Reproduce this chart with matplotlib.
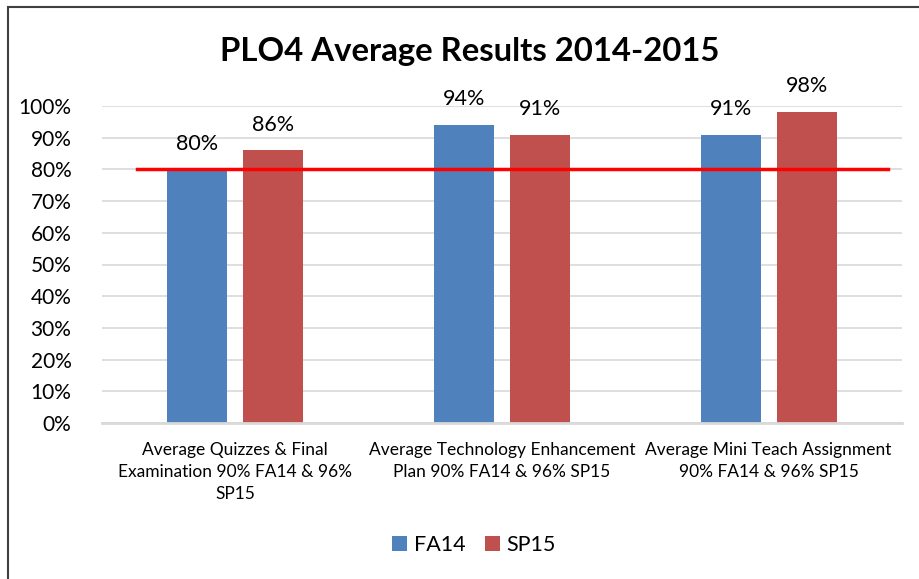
import numpy as np
import matplotlib
matplotlib.use("Agg")
import matplotlib.pyplot as plt
from matplotlib.patches import Rectangle

# --- DATA ---
CATEGORIES = [
    "Average Quizzes & Final\nExamination 90% FA14 & 96%\nSP15",
    "Average Technology Enhancement\nPlan 90% FA14 & 96% SP15",
    "Average Mini Teach Assignment\n90% FA14 & 96% SP15",
]
FA14 = [80, 94, 91]
SP15 = [86, 91, 98]
TARGET = 80
Y_TICKS = list(range(0, 101, 10))

plt.rcParams['font.family'] = ['Lato', 'DejaVu Sans']

fig = plt.figure(figsize=(9.19, 5.79), dpi=100)
ax = fig.add_axes([102 / 919, 1 - 423 / 579, 800 / 919, 317 / 579])

x = np.arange(len(CATEGORIES))
w = 0.225
off = 0.1425
blue = "#4F81BD"
red = "#C0504D"
b1 = ax.bar(x - off, FA14, w, color=blue, label="FA14", zorder=2)
b2 = ax.bar(x + off, SP15, w, color=red, label="SP15", zorder=2)

for bars, vals in [(b1, FA14), (b2, SP15)]:
    for b, v in zip(bars, vals):
        ax.text(b.get_x() + b.get_width() / 2, v + 5, f"{v}%", ha="center",
                va="bottom", fontsize=15.5, color="#000000")

ax.axhline(TARGET, xmin=35 / 800, xmax=786 / 800, color="#FF0000", lw=2.5, zorder=3)

ax.set_xlim(-0.5, len(CATEGORIES) - 0.5)
ax.set_ylim(0, 100)
ax.set_yticks(Y_TICKS)
ax.set_yticklabels([f"{t}%" for t in Y_TICKS], fontsize=15)
ax.set_xticks(x)
ax.set_xticklabels(CATEGORIES, fontsize=12.5, linespacing=1.45)
ax.tick_params(axis="x", length=0, pad=14)
ax.tick_params(axis="y", length=0, pad=22)
ax.grid(axis="y", color="#D9D9D9", lw=1.2, zorder=0)
for s in ["top", "right", "left"]:
    ax.spines[s].set_visible(False)
ax.spines["bottom"].set_color("#D9D9D9")
ax.spines["bottom"].set_linewidth(2)

fig.text(470 / 919, 1 - 51 / 579, "PLO4 Average Results 2014-2015", ha="center",
         va="center", fontsize=23.7, fontweight="bold")

fig.legend(handles=[b1, b2], loc="center", bbox_to_anchor=(474 / 919, 1 - 545 / 579),
           ncol=2, frameon=False, fontsize=15.5, handlelength=0.7, handleheight=0.7,
           handletextpad=0.3, columnspacing=0.9)

# outer chart border
fig.patches.append(Rectangle((8 / 919, -0.05), 1.2, 1 - 7 / 579 + 0.05,
                             transform=fig.transFigure, fill=False,
                             edgecolor="#404040", lw=1.5))

fig.savefig("out.png", dpi=100)
